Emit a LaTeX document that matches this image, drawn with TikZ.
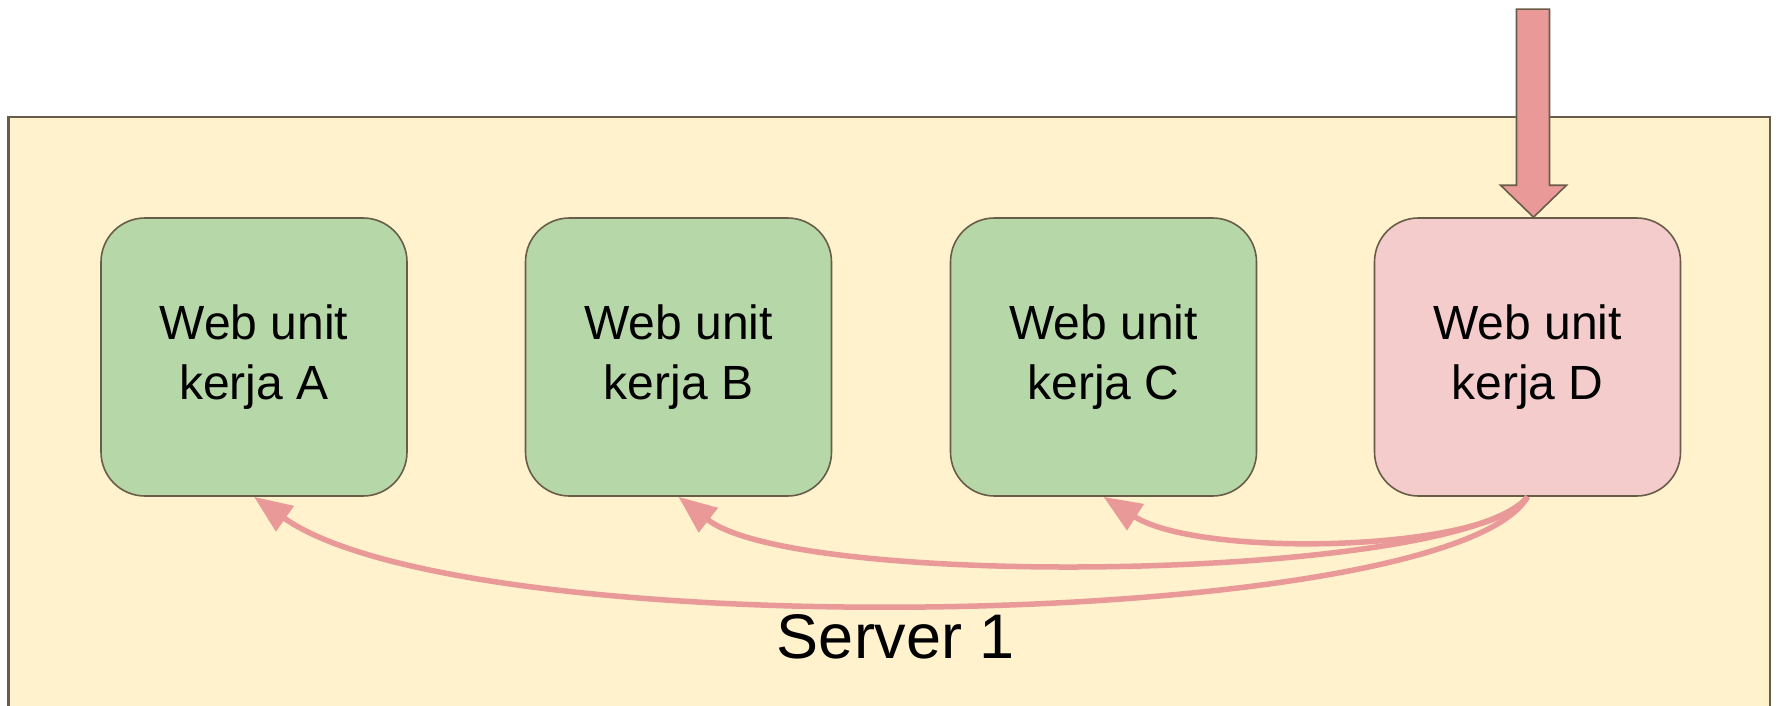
\documentclass[tikz,border=0pt]{standalone}
\usepackage{fontspec}
\setmainfont{Liberation Sans}
\usetikzlibrary{arrows.meta}

\definecolor{serverfill}{HTML}{FFF2CC}
\definecolor{unitgreen}{HTML}{B6D7A8}
\definecolor{unitpink}{HTML}{F4CCCC}
\definecolor{flowred}{HTML}{EA9999}
\definecolor{edgegray}{RGB}{105,92,72}

\tikzset{
  unitbox/.style={draw=edgegray, line width=1.6pt, fill=unitgreen,
    rounded corners=44pt, minimum width=306pt, minimum height=278pt,
    align=center, font=\fontsize{48}{60}\selectfont},
  flowline/.style={draw=flowred, line width=5.5pt,
    -{Triangle[length=38pt,width=30pt]}},
}

\begin{document}
\begin{tikzpicture}[x=1pt,y=-1pt]
  \useasboundingbox (0,0) rectangle (1777,706);

  % server frame, runs off the bottom
  \begin{scope}
    \clip (0,0) rectangle (1777,706);
    \draw[edgegray, line width=2.4pt, fill=serverfill] (8.5,117) rectangle (1770,730);
  \end{scope}
  \node[anchor=base, font=\fontsize{63}{70}\selectfont] (srv) at (896,658) {Server 1};

  % web units
  \node[unitbox] (A) at (254,357) {Web unit\\kerja A};
  \node[unitbox] (B) at (678.5,357) {Web unit\\kerja B};
  \node[unitbox] (C) at (1103.5,357) {Web unit\\kerja C};
  \node[unitbox, fill=unitpink] (D) at (1527.5,357) {Web unit\\kerja D};

  % incoming request
  \coordinate (entry) at ([xshift=6pt]D.north);
  \draw[edgegray, line width=1.6pt, fill=flowred, line join=miter]
    (entry) -- ++(-33,-32) -- ++(16,0) -- ++(0,-176) -- ++(33,0)
    -- ++(0,176) -- ++(17,0) -- cycle;

  % redirects from D
  \draw[flowline] (D.south) .. controls +(-77,134) and +(215,152) .. (A.south);
  \draw[flowline] (D.south) .. controls +(-67,84) and +(120,94) .. (B.south);
  \draw[flowline] (D.south) .. controls +(-37,55) and +(97,62) .. (C.south);
\end{tikzpicture}
\end{document}
